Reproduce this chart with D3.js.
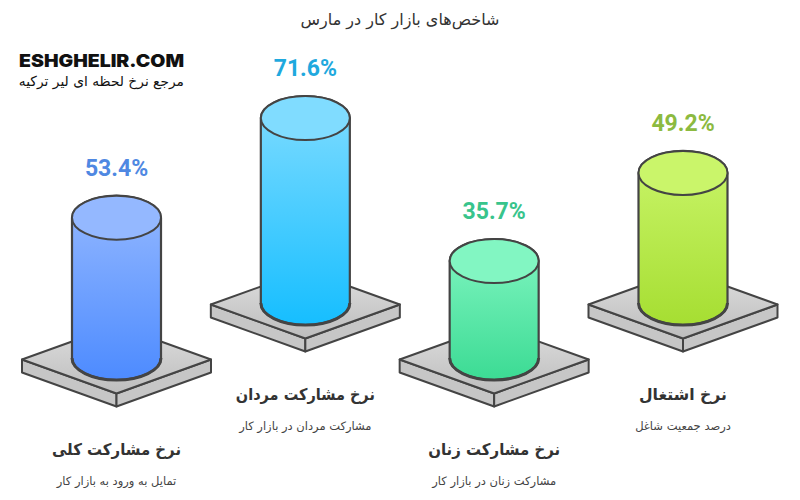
<!DOCTYPE html>
<html lang="fa">
<head>
<meta charset="utf-8">
<script src="https://cdn.jsdelivr.net/npm/d3@7"></script>
<style>
  html, body { margin: 0; padding: 0; background: #fff; }
  svg { display: block; }
  text { font-family: "DejaVu Sans", sans-serif; }
</style>
</head>
<body>
<div class="canvas"></div>
<script>
const categories = ['نرخ مشارکت کلی', 'نرخ مشارکت مردان', 'نرخ مشارکت زنان', 'نرخ اشتغال'];
const descriptions = ['تمایل به ورود به بازار کار', 'مشارکت مردان در بازار کار', 'مشارکت زنان در بازار کار', 'درصد جمعیت شاغل'];
const values = [53.4, 71.6, 35.7, 49.2];
const topColors = ['#94b8ff', '#80dcff', '#82f6c2', '#caf56a'];
const bottomColors = ['#4d8bff', '#16beff', '#3cdb94', '#a6de32'];
const valueColors = ['#4f88e2', '#1fa9de', '#38c48c', '#8cba40'];

const width = 800, height = 500;
const rx = 44.5, ry = 22;           // cylinder ellipse
const plateW = 94.5, plateH = 34, plateT = 13;
const rows = [358, 303];            // base line of the low and the high row
const nameWidths = [129, 139, 132, 88]; // the names are fitted to the reference width
const ink = '#444';

const svg = d3.select('.canvas')
  .append('svg')
  .attr('width', width)
  .attr('height', height);

const x = d3.scalePoint()
  .domain(categories)
  .range([116.5, 683]);

// bars do not start from zero height, the reference keeps a small stub
const h = d3.scaleLinear()
  .domain([0, 100])
  .range([9.5, 254.5]);

const defs = svg.append('defs');

categories.forEach((c, i) => {
  const grad = defs.append('linearGradient')
    .attr('id', `body${i}`)
    .attr('x1', 0).attr('y1', 0).attr('x2', 0).attr('y2', 1);
  grad.append('stop').attr('offset', 0).attr('stop-color', topColors[i]);
  grad.append('stop').attr('offset', 1).attr('stop-color', bottomColors[i]);
});

const plateGrad = defs.append('linearGradient')
  .attr('id', 'plate')
  .attr('x1', 0).attr('y1', 0).attr('x2', 0).attr('y2', 1);
plateGrad.append('stop').attr('offset', 0).attr('stop-color', '#dedede');
plateGrad.append('stop').attr('offset', 1).attr('stop-color', '#bdbdbd');

// title
svg.append('text')
  .attr('x', 400)
  .attr('y', 25)
  .attr('text-anchor', 'middle')
  .attr('direction', 'rtl')
  .attr('font-size', 16)
  .attr('fill', '#333')
  .text('شاخص‌های بازار کار در مارس');

// logo
svg.append('text')
  .attr('x', 19)
  .attr('y', 67)
  .attr('font-size', 17.5)
  .attr('font-weight', 900)
  .attr('fill', '#111')
  .style('font-family', 'Inter, sans-serif')
  .attr('textLength', 165)
  .attr('lengthAdjust', 'spacingAndGlyphs')
  .text('ESHGHELIR.COM');

svg.append('text')
  .attr('x', 184)
  .attr('y', 86)
  .attr('text-anchor', 'start')
  .attr('direction', 'rtl')
  .attr('font-size', 13.8)
  .attr('fill', '#111')
  .text('مرجع نرخ لحظه ای لیر ترکیه');

const columns = svg.selectAll('g.column')
  .data(categories)
  .join('g')
  .attr('class', 'column')
  .attr('transform', (d, i) => `translate(${x(d)}, ${rows[i % 2]})`);

// plate under the cylinder
const py = 1.5;
columns.append('path')
  .attr('d', `M${-plateW},${py} L0,${py + plateH} L0,${py + plateH + plateT} L${-plateW},${py + plateT} Z`)
  .attr('fill', '#c6c6c6')
  .attr('stroke', ink).attr('stroke-width', 2).attr('stroke-linejoin', 'round');

columns.append('path')
  .attr('d', `M${plateW},${py} L0,${py + plateH} L0,${py + plateH + plateT} L${plateW},${py + plateT} Z`)
  .attr('fill', '#c6c6c6')
  .attr('stroke', ink).attr('stroke-width', 2).attr('stroke-linejoin', 'round');

columns.append('path')
  .attr('d', `M${-plateW},${py} L0,${py - plateH} L${plateW},${py} L0,${py + plateH} Z`)
  .attr('fill', 'url(#plate)')
  .attr('stroke', ink).attr('stroke-width', 2).attr('stroke-linejoin', 'round');

// cylinder body
columns.append('path')
  .attr('d', (d, i) => {
    const top = -h(values[i]);
    return `M${-rx},${top} L${-rx},0 A${rx},${ry} 0 0 0 ${rx},0 L${rx},${top} A${rx},${ry} 0 0 0 ${-rx},${top} Z`;
  })
  .attr('fill', (d, i) => `url(#body${i})`)
  .attr('stroke', ink)
  .attr('stroke-width', 2.2);

// the front edge at the foot is heavier
columns.append('path')
  .attr('d', `M${-rx},0 A${rx},${ry} 0 0 0 ${rx},0`)
  .attr('fill', 'none')
  .attr('stroke', ink)
  .attr('stroke-width', 3);

// cylinder lid
columns.append('ellipse')
  .attr('cx', 0)
  .attr('cy', (d, i) => -h(values[i]))
  .attr('rx', rx)
  .attr('ry', ry)
  .attr('fill', (d, i) => topColors[i])
  .attr('stroke', ink)
  .attr('stroke-width', 2);

// value above the lid
columns.append('text')
  .attr('y', (d, i) => -h(values[i]) - 42)
  .attr('text-anchor', 'middle')
  .attr('font-size', 23)
  .attr('font-weight', 700)
  .attr('fill', (d, i) => valueColors[i])
  .style('font-family', 'Roboto, sans-serif')
  .text((d, i) => `${values[i]}%`);

// names and descriptions under the plate
columns.append('text')
  .attr('y', 97)
  .attr('text-anchor', 'middle')
  .attr('direction', 'rtl')
  .attr('font-size', 16)
  .attr('font-weight', 700)
  .attr('fill', '#333')
  .attr('textLength', (d, i) => nameWidths[i])
  .attr('lengthAdjust', 'spacingAndGlyphs')
  .text(d => d);

columns.append('text')
  .attr('y', 127)
  .attr('text-anchor', 'middle')
  .attr('direction', 'rtl')
  .attr('font-size', 11.5)
  .attr('fill', '#444')
  .text((d, i) => descriptions[i]);
</script>
</body>
</html>
